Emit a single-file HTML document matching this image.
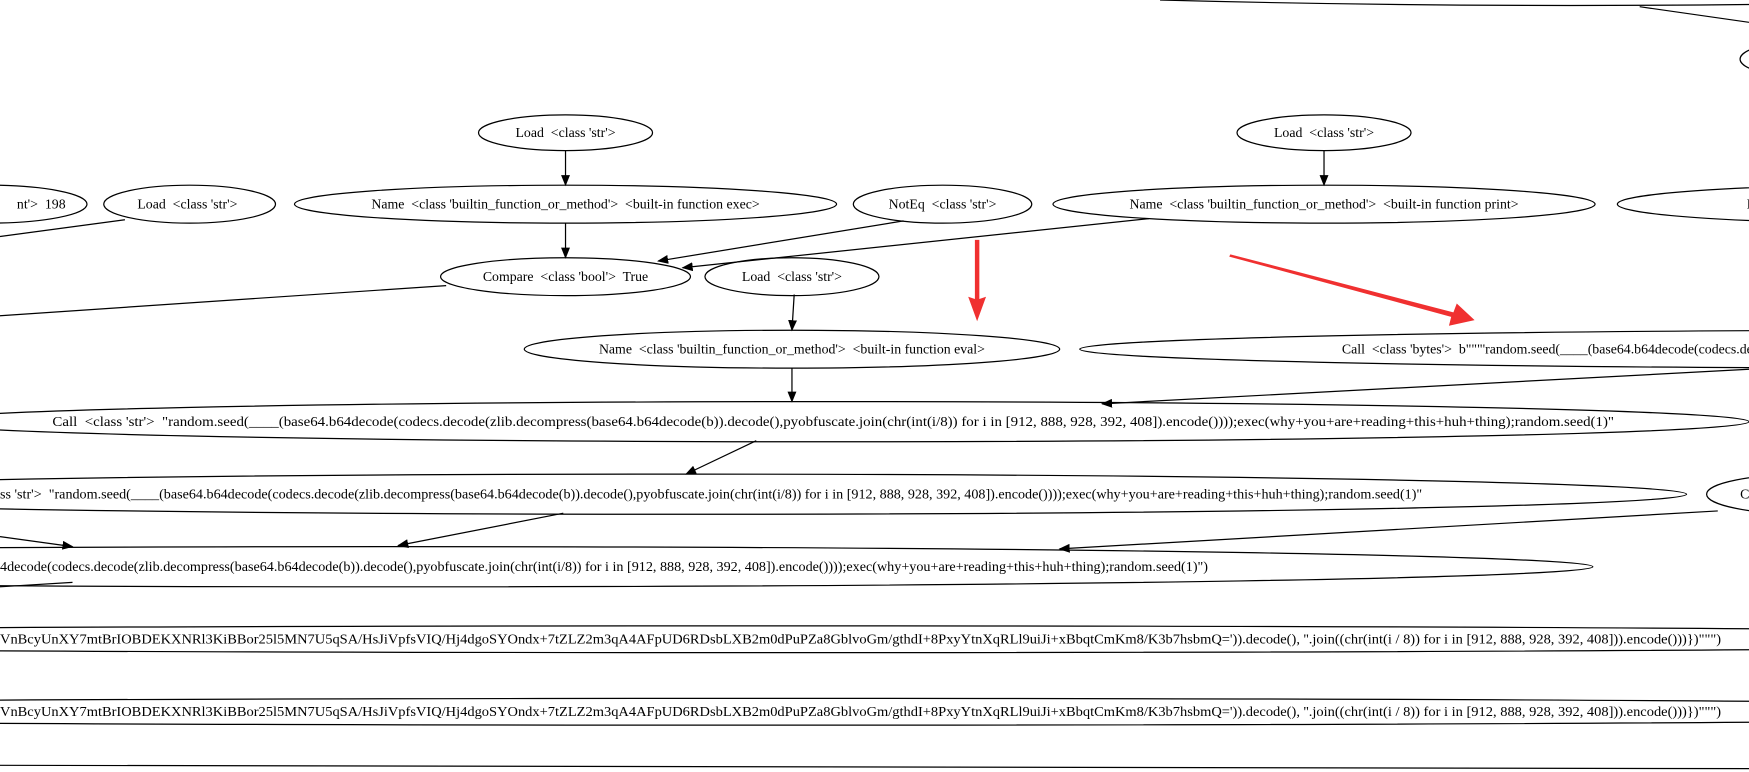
<!DOCTYPE html>
<html><head><meta charset="utf-8"><style>
html,body{margin:0;padding:0;background:#fff;}
svg{display:block;}
text{font-family:"Liberation Serif",serif;font-size:12.4px;fill:#000;white-space:pre;}
</style></head><body>
<svg width="1749" height="772" viewBox="0 0 1568 692" preserveAspectRatio="none" xmlns="http://www.w3.org/2000/svg" xml:space="preserve">
<defs>
<marker id="a" markerWidth="10" markerHeight="8" refX="9" refY="4" orient="auto" markerUnits="userSpaceOnUse">
<path d="M0,0 L10,4 L0,8 Z" fill="#000"/></marker>
</defs>
<g fill="none" stroke="#000" stroke-width="1.1">
<path d="M1040,0 Q1300,7 1568,4"/>
<path d="M1470,6 L1568,20"/>
<ellipse cx="1620" cy="53" rx="60" ry="16"/>
<ellipse cx="507" cy="119" rx="78" ry="16"/>
<ellipse cx="1187" cy="119" rx="78" ry="16"/>
<ellipse cx="-10" cy="183" rx="88" ry="17"/>
<ellipse cx="170" cy="183" rx="77" ry="17"/>
<ellipse cx="507" cy="183" rx="243" ry="17"/>
<ellipse cx="845" cy="183" rx="80" ry="17"/>
<ellipse cx="1187" cy="183" rx="243" ry="17"/>
<ellipse cx="1690" cy="183" rx="240" ry="17"/>
<ellipse cx="507" cy="248" rx="112" ry="17"/>
<ellipse cx="710" cy="248" rx="78" ry="17"/>
<ellipse cx="710" cy="313" rx="240" ry="17"/>
<ellipse cx="1750" cy="313" rx="782" ry="17"/>
<ellipse cx="747" cy="378" rx="821" ry="18"/>
<ellipse cx="615" cy="443" rx="897" ry="18"/>
<ellipse cx="1620" cy="443" rx="90" ry="18"/>
<ellipse cx="350" cy="508" rx="1078" ry="18"/>
<ellipse cx="700" cy="573" rx="1400" ry="12"/>
<ellipse cx="700" cy="638" rx="1400" ry="12"/>
<path d="M0,686 Q800,687 1568,689"/>
<path d="M507,135 L507,166" marker-end="url(#a)"/>
<path d="M1187,135 L1187,166" marker-end="url(#a)"/>
<path d="M507,200 L507,231" marker-end="url(#a)"/>
<path d="M810,198 L590,234" marker-end="url(#a)"/>
<path d="M1030,196 L612,240" marker-end="url(#a)"/>
<path d="M112,197 L0,212"/>
<path d="M400,256 L0,283"/>
<path d="M712,264 L710,296" marker-end="url(#a)"/>
<path d="M710,330 L710,360" marker-end="url(#a)"/>
<path d="M1568,331 L988,362" marker-end="url(#a)"/>
<path d="M678,395 L615,425" marker-end="url(#a)"/>
<path d="M505,460 L357,489" marker-end="url(#a)"/>
<path d="M0,481 L65,490" marker-end="url(#a)"/>
<path d="M0,526 L65,522"/>
<path d="M1540,458 L950,492" marker-end="url(#a)"/>
</g>
<g fill="#f03030">
<polygon points="874,215 878,215 878,268 884,266 876,288 868,266 874,268"/>
<polygon points="1102,230 1103,228 1303,280 1306,272 1322,287 1299,292 1301,284"/>
</g>
<g text-anchor="middle">
<text x="507" y="123">Load  &lt;class 'str'&gt;</text>
<text x="1187" y="123">Load  &lt;class 'str'&gt;</text>
<text x="37" y="187">nt'&gt;  198</text>
<text x="168" y="187">Load  &lt;class 'str'&gt;</text>
<text x="507" y="187">Name  &lt;class 'builtin_function_or_method'&gt;  &lt;built-in function exec&gt;</text>
<text x="845" y="187">NotEq  &lt;class 'str'&gt;</text>
<text x="1187" y="187">Name  &lt;class 'builtin_function_or_method'&gt;  &lt;built-in function print&gt;</text>
<text x="507" y="252">Compare  &lt;class 'bool'&gt;  True</text>
<text x="710" y="252">Load  &lt;class 'str'&gt;</text>
<text x="710" y="317">Name  &lt;class 'builtin_function_or_method'&gt;  &lt;built-in function eval&gt;</text>
</g>
<text x="1566" y="187">N</text>
<text x="1203" y="317">Call  &lt;class 'bytes'&gt;  b"""'random.seed(____(base64.b64decode(codecs.decode(zlib</text>
<text x="47" y="382" textLength="1400" lengthAdjust="spacingAndGlyphs">Call  &lt;class 'str'&gt;  "random.seed(____(base64.b64decode(codecs.decode(zlib.decompress(base64.b64decode(b)).decode(),pyobfuscate.join(chr(int(i/8)) for i in [912, 888, 928, 392, 408]).encode())));exec(why+you+are+reading+this+huh+thing);random.seed(1)"</text>
<text x="0" y="447" textLength="1275" lengthAdjust="spacingAndGlyphs">ss 'str'&gt;  "random.seed(____(base64.b64decode(codecs.decode(zlib.decompress(base64.b64decode(b)).decode(),pyobfuscate.join(chr(int(i/8)) for i in [912, 888, 928, 392, 408]).encode())));exec(why+you+are+reading+this+huh+thing);random.seed(1)"</text>
<text x="1560" y="447">C</text>
<text x="0" y="512" textLength="1083" lengthAdjust="spacingAndGlyphs">4decode(codecs.decode(zlib.decompress(base64.b64decode(b)).decode(),pyobfuscate.join(chr(int(i/8)) for i in [912, 888, 928, 392, 408]).encode())));exec(why+you+are+reading+this+huh+thing);random.seed(1)")</text>
<text x="0" y="577" textLength="1543" lengthAdjust="spacingAndGlyphs">VnBcyUnXY7mtBrIOBDEKXNRl3KiBBor25l5MN7U5qSA/HsJiVpfsVIQ/Hj4dgoSYOndx+7tZLZ2m3qA4AFpUD6RDsbLXB2m0dPuPZa8GblvoGm/gthdI+8PxyYtnXqRLl9uiJi+xBbqtCmKm8/K3b7hsbmQ=')).decode(), ''.join((chr(int(i / 8)) for i in [912, 888, 928, 392, 408])).encode()))})""")</text>
<text x="0" y="642" textLength="1543" lengthAdjust="spacingAndGlyphs">VnBcyUnXY7mtBrIOBDEKXNRl3KiBBor25l5MN7U5qSA/HsJiVpfsVIQ/Hj4dgoSYOndx+7tZLZ2m3qA4AFpUD6RDsbLXB2m0dPuPZa8GblvoGm/gthdI+8PxyYtnXqRLl9uiJi+xBbqtCmKm8/K3b7hsbmQ=')).decode(), ''.join((chr(int(i / 8)) for i in [912, 888, 928, 392, 408])).encode()))})""")</text>
</svg>
</body></html>
